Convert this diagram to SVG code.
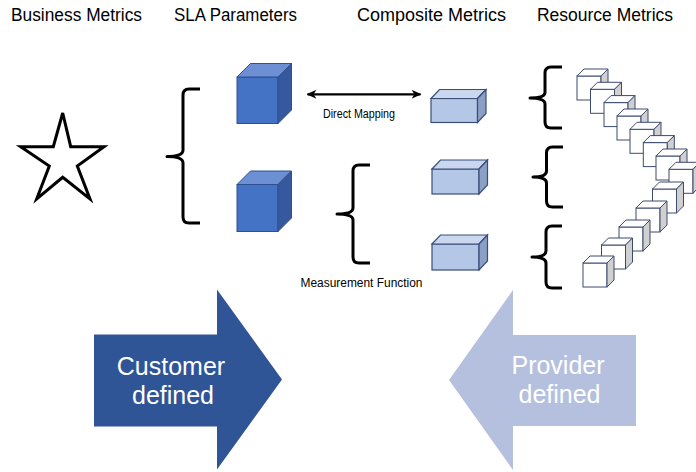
<svg xmlns="http://www.w3.org/2000/svg" width="696" height="472" viewBox="0 0 696 472">
<style>
.hdr{font-family:"Liberation Sans",Arial,sans-serif;font-size:17.5px;fill:#000}
.lbl{font-family:"Liberation Sans",Arial,sans-serif;font-size:12px;fill:#000}
.big{font-family:"Liberation Sans",Arial,sans-serif;font-size:25px;fill:#fff;text-anchor:middle}
.brace{fill:none;stroke:#000;stroke-width:3;stroke-linecap:butt;stroke-linejoin:round}
.bf{fill:#4472C4;stroke:#2F4F8F;stroke-width:1}
.bt{fill:#6D8FD3;stroke:#2F4F8F;stroke-width:1}
.br{fill:#36589E;stroke:#2F4F8F;stroke-width:1}
.lf{fill:#B4C7E7;stroke:#3A4E7A;stroke-width:1.2}
.lt{fill:#CAD7EF;stroke:#3A4E7A;stroke-width:1.2}
.lr{fill:#8C9FC4;stroke:#3A4E7A;stroke-width:1.2}
.wf{fill:#fff;stroke:#3B4A6E;stroke-width:1}
.wr{fill:#D0D0D0;stroke:#3B4A6E;stroke-width:1}
</style>
<defs>
<marker id="ah" viewBox="0 0 10 10" refX="9" refY="5" markerWidth="10" markerHeight="10" markerUnits="userSpaceOnUse" orient="auto-start-reverse">
<path d="M0,0.5 L10,5 L0,9.5 L3,5 Z" fill="#000"/>
</marker>
<g id="wc">
<rect class="wf" x="0" y="7" width="24" height="24"/>
<polygon class="wf" points="0,7 7,0 31,0 24,7"/>
<polygon class="wr" points="24,7 31,0 31,24 24,31"/>
</g>
</defs>
<rect width="696" height="472" fill="#fff"/>

<g id="headers">
<text class="hdr" x="11" y="21" textLength="131" lengthAdjust="spacingAndGlyphs">Business Metrics</text>
<text class="hdr" x="174" y="21" textLength="123" lengthAdjust="spacingAndGlyphs">SLA Parameters</text>
<text class="hdr" x="357" y="21" textLength="149" lengthAdjust="spacingAndGlyphs">Composite Metrics</text>
<text class="hdr" x="537" y="21" textLength="136" lengthAdjust="spacingAndGlyphs">Resource Metrics</text>
</g>

<g id="star">
<polygon points="62.7,113 70.7,146.7 104,146.7 77.3,166 90,199 62.7,177.3 36.7,199 49.3,166 20.7,146.7 53.3,146.7" fill="#fff" stroke="#000" stroke-width="3" stroke-linejoin="miter"/>
</g>

<g id="sla-brace">
<path class="brace" d="M200,89 H189 Q183,89 183,95 V150 Q183,156.5 167,156.5 Q183,156.5 183,163 V217 Q183,223 189,223 H200"/>
</g>

<g id="sla-cube-1">
<rect class="bf" x="237" y="77" width="41" height="46.5"/>
<polygon class="bt" points="237,77 250.5,63.5 291.5,63.5 278,77"/>
<polygon class="br" points="278,77 291.5,63.5 291.5,110 278,123.5"/>
</g>
<g id="sla-cube-2">
<rect class="bf" x="237" y="184.5" width="41" height="47"/>
<polygon class="bt" points="237,184.5 250.5,171 291.5,171 278,184.5"/>
<polygon class="br" points="278,184.5 291.5,171 291.5,218 278,231.5"/>
</g>

<g id="composite-cube-1">
<rect class="lf" x="431" y="98.5" width="46.5" height="24"/>
<polygon class="lt" points="431,98.5 439.5,89.5 486,89.5 477.5,98.5"/>
<polygon class="lr" points="477.5,98.5 486,89.5 486,113.5 477.5,122.5"/>
</g>
<g id="composite-cube-2">
<rect class="lf" x="432" y="169" width="47" height="25"/>
<polygon class="lt" points="432,169 440.5,160 487.5,160 479,169"/>
<polygon class="lr" points="479,169 487.5,160 487.5,185 479,194"/>
</g>
<g id="composite-cube-3">
<rect class="lf" x="432" y="244" width="47" height="26"/>
<polygon class="lt" points="432,244 440.5,235 487.5,235 479,244"/>
<polygon class="lr" points="479,244 487.5,235 487.5,261 479,270"/>
</g>

<g id="measurement-brace">
<path class="brace" d="M370,165 H359 Q353,165 353,171 V208 Q353,214 337,214 Q353,214 353,220 V257 Q353,263 359,263 H370"/>
</g>

<g id="resource-braces">
<path class="brace" d="M562,67 H551 Q545,67 545,73 V92.5 Q545,98 530,98 Q545,98 545,104 V122 Q545,128 551,128 H562"/>
<path class="brace" d="M563,147 H552.5 Q546.5,147 546.5,153 V171 Q546.5,177 533,177 Q546.5,177 546.5,183 V201 Q546.5,207 552.5,207 H563"/>
<path class="brace" d="M562,226 H552 Q546,226 546,232 V251 Q546,257 532,257 Q546,257 546,263 V282 Q546,288 552,288 H562"/>
</g>

<g id="resource-cubes">
<use href="#wc" x="577" y="69"/>
<use href="#wc" x="590.5" y="82.3"/>
<use href="#wc" x="604" y="95.6"/>
<use href="#wc" x="617" y="109"/>
<use href="#wc" x="630" y="122.3"/>
<use href="#wc" x="643.3" y="135.6"/>
<use href="#wc" x="656" y="149"/>
<use href="#wc" x="669" y="162.3"/>
<use href="#wc" x="652.5" y="182"/>
<use href="#wc" x="636" y="201"/>
<use href="#wc" x="619" y="220"/>
<use href="#wc" x="601.5" y="238"/>
<use href="#wc" x="583" y="256"/>
</g>

<g id="connectors">
<line x1="307.5" y1="94.3" x2="420.5" y2="94.3" stroke="#000" stroke-width="2.2" marker-start="url(#ah)" marker-end="url(#ah)"/>
</g>
<g id="labels">
<text class="lbl" x="359" y="117.5" text-anchor="middle" textLength="72" lengthAdjust="spacingAndGlyphs">Direct Mapping</text>
<text class="lbl" x="361.5" y="286.5" text-anchor="middle" textLength="122" lengthAdjust="spacingAndGlyphs">Measurement Function</text>
</g>

<g id="customer-arrow">
<polygon points="94,334.5 217,334.5 217,289.5 282,379.5 217,469.5 217,426.5 94,426.5" fill="#2F5597"/>
<text class="big" x="171" y="374.5">Customer</text>
<text class="big" x="173" y="403.5">defined</text>
</g>

<g id="provider-arrow">
<polygon points="636,335 513,335 513,290 449,380 513,470 513,426 636,426" fill="#B5C0DF"/>
<text class="big" x="558" y="373.5">Provider</text>
<text class="big" x="559.5" y="402.5">defined</text>
</g>
</svg>
